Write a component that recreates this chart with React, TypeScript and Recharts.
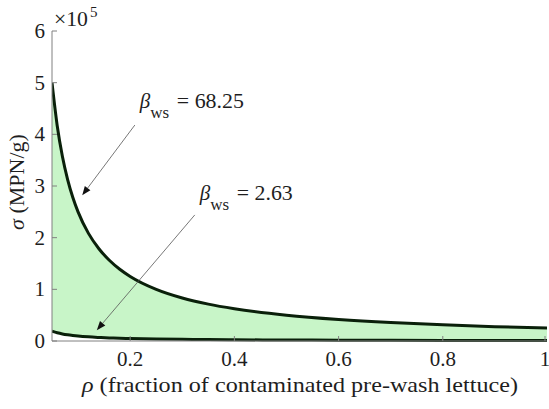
import { ComposedChart, Area, Line, XAxis, YAxis, ReferenceLine } from "recharts";

// fraction of contaminated pre-wash lettuce
const rho = [0.05, 0.06, 0.07, 0.08, 0.09, 0.1, 0.12, 0.14, 0.16, 0.18, 0.2, 0.25, 0.3, 0.35, 0.4, 0.5, 0.6, 0.7, 0.8, 0.9, 1.0];
// sigma (MPN/g), beta_ws = 68.25
const sigmaHigh = [500000, 416700, 357100, 312500, 277800, 250000, 208300, 178600, 156300, 138900, 125000, 100000, 83300, 71400, 62500, 50000, 41700, 35700, 31300, 27800, 25000];
// sigma (MPN/g), beta_ws = 2.63
const sigmaLow = [19000, 16000, 13700, 12000, 10700, 9600, 8000, 6900, 6000, 5300, 4800, 3900, 3200, 2700, 2400, 1900, 1600, 1400, 1200, 1100, 1000];

const xTicks = [0.2, 0.4, 0.6, 0.8, 1];
const yTicks = [0, 100000, 200000, 300000, 400000, 500000, 600000];

const data = rho.map((r, i) => ({ rho: r, high: sigmaHigh[i], low: sigmaLow[i], band: [sigmaLow[i], sigmaHigh[i]] }));

const serif = { fontFamily: "'Liberation Serif', 'Times New Roman', Times, serif" };
const AXIS = "#808080";
const TXT = "#1e1e1e";

const fmtX = (v: number) => (v === 1 ? "1" : String(v));

function BottomTick({ x, y, payload }: any) {
  return (
    <g>
      <line x1={x} y1={y} x2={x} y2={y - 5} stroke={AXIS} />
      <text x={x} y={y + 25} textAnchor="middle" fontSize={21} fill={TXT} style={serif}>{fmtX(payload.value)}</text>
    </g>
  );
}
function TopTick({ x, y }: any) {
  return <line x1={x} y1={y} x2={x} y2={y + 5} stroke={AXIS} />;
}
function LeftTick({ x, y, payload }: any) {
  return (
    <g>
      <line x1={x} y1={y} x2={x + 5} y2={y} stroke={AXIS} />
      <text x={x - 7} y={y + 7} textAnchor="end" fontSize={21} fill={TXT} style={serif}>{payload.value / 100000}</text>
    </g>
  );
}
function RightTick({ x, y }: any) {
  return <line x1={x} y1={y} x2={x - 5} y2={y} stroke={AXIS} />;
}

function arrowShape(value: string, dy: number, len: number) {
  return (props: any) => {
    const { x1, y1, x2, y2 } = props;
    const a = Math.atan2(y2 - y1, x2 - x1);
    const L = 9, W = 3.5;
    const bx = x2 - L * Math.cos(a), by = y2 - L * Math.sin(a);
    const px = -Math.sin(a) * W, py = Math.cos(a) * W;
    return (
      <g>
        <line x1={x1} y1={y1} x2={bx} y2={by} stroke="#555" strokeWidth={0.8} />
        <polygon points={`${x2},${y2} ${bx + px},${by + py} ${bx - px},${by - py}`} fill="#111" />
        <text x={x1 + 5} y={y1 - dy} fontSize={21} fill={TXT} style={serif}>
          <tspan fontStyle="italic">β</tspan>
          <tspan fontSize={17} dy={10}>ws</tspan>
        </text>
        <text x={x1 + 42} y={y1 - dy} fontSize={21} fill={TXT} style={serif} textLength={len} lengthAdjust="spacingAndGlyphs">
          {"= " + value}
        </text>
      </g>
    );
  };
}

export default function App() {
  return (
    <div style={{ position: "absolute", left: 0, top: 0, width: 549, height: 409, background: "#fff", ...serif }}>
      <ComposedChart width={549} height={409} data={data} margin={{ top: 31, right: 2, bottom: 0, left: 0 }}>
        <XAxis dataKey="rho" type="number" domain={[0.05, 1]} ticks={xTicks} allowDataOverflow
          height={68} stroke={AXIS} tickLine={false} tickSize={0} tickMargin={0} tick={<BottomTick />} />
        <XAxis xAxisId="top" orientation="top" dataKey="rho" type="number" domain={[0.05, 1]} ticks={xTicks} allowDataOverflow
          height={0} stroke={AXIS} tickLine={false} tickSize={0} tickMargin={0} tick={<TopTick />} />
        <YAxis type="number" domain={[0, 600000]} ticks={yTicks} width={52} stroke={AXIS}
          tickLine={false} tickSize={0} tickMargin={0} tick={<LeftTick />} />
        <YAxis yAxisId="right" orientation="right" type="number" domain={[0, 600000]} ticks={yTicks} width={0} stroke={AXIS}
          tickLine={false} tickSize={0} tickMargin={0} tick={<RightTick />} />
        <Area dataKey="band" type="monotone" fill="#c8f5c8" fillOpacity={1} stroke="none" isAnimationActive={false} />
        <Line dataKey="high" type="monotone" stroke="#0a200a" strokeWidth={3} dot={false} isAnimationActive={false} />
        <Line dataKey="low" type="monotone" stroke="#0a200a" strokeWidth={3} dot={false} isAnimationActive={false} />
        <ReferenceLine segment={[{ x: 0.209, y: 418000 }, { x: 0.108, y: 282000 }]} shape={arrowShape("68.25", 17, 67)} ifOverflow="visible" />
        <ReferenceLine segment={[{ x: 0.324, y: 244000 }, { x: 0.136, y: 21000 }]} shape={arrowShape("2.63", 15, 56)} ifOverflow="visible" />
      </ComposedChart>
      <svg width={549} height={409} style={{ position: "absolute", left: 0, top: 0, pointerEvents: "none" }}>
        <text x={54} y={26} fontSize={22} fill={TXT} style={serif} textLength={34} lengthAdjust="spacingAndGlyphs">×10</text>
        <text x={90} y={17} fontSize={15} fill={TXT} style={serif}>5</text>
        <text transform="translate(24,182) rotate(-90)" textAnchor="middle" fontSize={22} fill={TXT} style={serif}>
          <tspan fontStyle="italic">σ</tspan> (MPN/g)
        </text>
        <text x={82} y={392} fontSize={22} fill={TXT} style={serif} textLength={436} lengthAdjust="spacingAndGlyphs">
          <tspan fontStyle="italic">ρ</tspan> (fraction of contaminated pre-wash lettuce)
        </text>
      </svg>
    </div>
  );
}
